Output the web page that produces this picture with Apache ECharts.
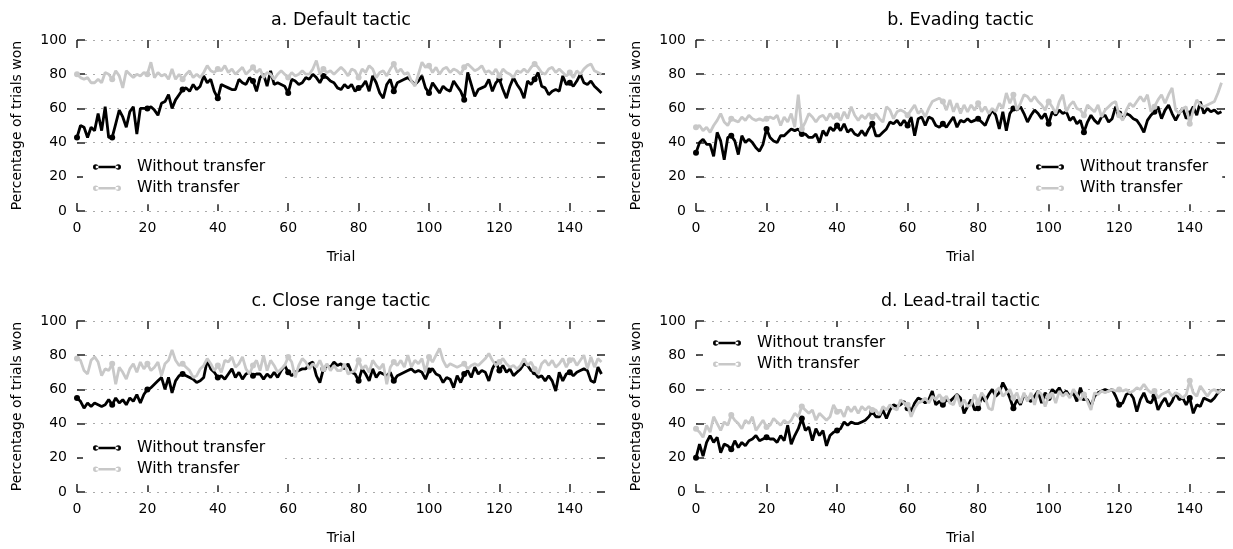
<!DOCTYPE html>
<html>
<head>
<meta charset="utf-8">
<title>Percentage of trials won</title>
<script src="https://cdn.jsdelivr.net/npm/echarts@6/dist/echarts.min.js"></script>
<style>
  html, body { margin: 0; padding: 0; background: #fff; }
  #chart { width: 1233px; height: 549px; }
</style>
</head>
<body>
<div id="chart"></div>
<script>
  // x values: trial number 0..149
  const trials = Array.from({ length: 150 }, (_, i) => i);
  const xTicks = [0, 20, 40, 60, 80, 100, 120, 140];
  const seriesNames = ['Without transfer', 'With transfer'];
  const titles = ['a. Default tactic', 'b. Evading tactic', 'c. Close range tactic', 'd. Lead-trail tactic'];

  // a. Default tactic
  const defaultWithout = [43,50,49,43,49,47,57,47,61,43, 43,51,59,55,49,58,61,45,60,60, 60,61,59,56,63,64,68,60,65,68,
    71,72,70,74,71,73,79,75,77,70, 66,74,73,72,71,71,77,75,74,78, 76,70,78,80,73,82,74,75,74,73,
    69,77,76,74,75,78,77,80,78,75, 79,78,76,75,72,71,74,72,74,70, 72,73,76,70,79,75,69,66,74,77,
    70,75,76,77,78,76,74,76,79,72, 69,75,72,69,73,71,70,76,73,70, 65,81,74,67,71,72,73,77,70,75,
    77,71,66,73,78,74,71,66,76,74, 77,81,73,72,68,70,71,70,79,74, 75,73,76,80,75,74,76,73,71,69];
  const defaultWith = [80,78,77,78,75,75,77,75,81,80, 77,82,79,72,82,80,78,80,79,81, 80,87,78,81,79,80,77,83,77,80,
    77,80,82,78,80,78,81,85,82,81, 83,82,85,81,83,80,82,84,80,82, 84,81,83,78,81,80,77,80,82,80,
    78,81,79,80,82,80,80,83,88,80, 83,81,82,80,82,84,82,79,83,82, 78,83,81,85,83,78,81,82,79,83,
    86,81,83,80,81,76,73,80,87,84, 85,81,84,80,83,84,81,83,82,80, 84,86,84,82,83,85,81,82,80,83,
    79,83,81,80,78,82,81,83,81,84, 86,84,81,80,83,84,81,83,81,79, 81,78,82,80,83,85,86,82,81,80];

  // b. Evading tactic
  const evadingWithout = [34,40,42,39,39,32,46,41,30,43, 44,41,33,44,40,42,40,37,35,39, 48,43,41,40,44,44,46,48,47,48,
    45,45,43,43,45,40,47,44,49,47, 50,47,51,46,48,45,44,47,44,48, 51,44,44,46,48,52,51,53,50,53,
    50,55,44,54,55,50,55,54,50,49, 51,49,52,55,49,53,52,54,52,53, 54,52,50,55,59,56,48,58,47,57,
    60,59,61,57,52,56,59,57,54,57, 51,58,56,59,57,58,53,55,51,53, 46,52,56,53,51,55,56,52,54,61,
    57,54,57,56,54,53,50,46,53,56, 58,61,54,59,62,57,53,57,60,54, 57,61,56,64,57,60,58,59,57,58];
  const evadingWith = [49,50,47,49,46,50,53,57,52,50, 54,53,52,55,53,56,54,53,54,53, 54,55,54,56,50,55,52,57,49,68,
    48,52,57,55,52,55,56,53,57,54, 56,53,58,54,61,56,53,56,54,57, 55,57,54,52,61,59,54,58,59,58,
    56,59,62,57,59,55,60,64,65,66, 64,59,65,58,63,57,62,58,62,59, 63,58,61,57,60,58,63,60,69,63,
    68,59,63,68,67,64,67,64,62,59, 64,61,57,64,68,58,62,64,60,59, 56,62,60,58,62,55,59,61,63,64,
    56,53,59,63,61,64,67,64,68,58, 61,65,68,63,68,72,59,57,60,61, 51,59,65,62,61,62,63,64,69,75];

  // c. Close range tactic
  const closeWithout = [55,53,49,52,50,52,51,50,51,54, 51,55,52,54,51,55,53,57,52,57, 60,61,63,65,67,60,67,58,65,68,
    69,68,67,66,64,65,67,77,72,70, 67,68,66,69,72,67,70,66,69,70, 68,69,69,66,69,67,70,67,71,74,
    70,68,70,71,72,72,75,76,68,64, 72,74,73,76,74,75,72,75,70,69, 65,72,69,65,72,67,70,69,68,70,
    65,68,69,70,71,72,70,71,70,66, 71,72,69,68,64,67,66,61,68,64, 69,71,67,73,69,71,70,65,72,76,
    71,74,70,72,68,70,72,75,74,71, 70,67,68,65,68,65,59,70,65,69, 70,68,70,71,72,71,65,64,73,69];
  const closeWith = [78,77,71,69,77,79,76,68,72,71, 75,63,73,70,66,72,75,70,76,72, 75,71,73,76,68,75,77,83,77,74,
    75,73,71,67,68,72,74,78,75,71, 74,70,77,76,79,73,75,79,72,69, 74,77,71,80,71,77,74,70,72,74,
    79,76,67,74,78,76,72,75,73,77, 72,75,71,74,71,71,75,69,70,71, 77,72,74,70,77,74,72,75,63,73,
    76,74,77,73,80,73,77,75,78,70, 79,76,80,84,77,73,75,74,73,74, 75,72,74,75,74,76,78,81,77,74,
    76,78,75,73,74,72,74,78,74,76, 72,69,75,77,74,77,73,75,78,73, 77,78,74,77,80,72,79,73,78,76];

  // d. Lead-trail tactic
  const leadWithout = [20,28,21,29,33,29,32,23,28,27, 25,30,26,29,27,30,31,33,30,31, 32,31,31,29,33,30,39,28,33,37,
    43,36,38,30,37,33,36,27,33,35, 36,37,41,39,41,40,40,41,42,44, 47,44,44,48,43,48,51,50,51,53,
    49,47,52,55,54,52,54,59,51,53, 51,54,53,55,57,55,46,50,54,48, 49,56,53,57,60,56,58,64,60,55,
    49,54,51,57,54,53,56,59,52,58, 55,60,58,61,57,59,56,58,53,61, 55,54,50,56,58,59,60,59,60,56,
    51,52,57,58,55,47,54,58,53,52, 56,48,52,55,50,53,58,54,55,51, 55,46,51,50,55,54,53,55,58,60];
  const leadWith = [37,35,32,39,35,44,40,36,41,39, 45,42,40,37,42,40,44,36,39,42, 38,39,43,41,39,42,40,42,46,44,
    50,48,46,48,42,46,44,42,44,51, 47,48,44,50,47,50,46,50,48,50, 48,48,45,50,48,51,49,48,54,52,
    51,44,49,52,53,55,52,56,54,57, 54,56,52,51,57,50,54,50,51,57, 52,58,55,49,48,59,61,56,58,60,
    55,58,52,58,53,58,51,59,57,50, 56,58,52,59,56,58,55,60,57,54, 57,53,48,58,57,59,58,59,60,59,
    60,59,60,58,59,61,60,63,60,58, 59,55,57,58,59,56,58,57,55,57, 65,58,56,62,59,56,59,60,58,60];

  const panelData = [
    [defaultWithout, defaultWith],
    [evadingWithout, evadingWith],
    [closeWithout, closeWith],
    [leadWithout, leadWith]
  ];

  // layout in pixels
  const grids = [
    { left: 77, top: 40, width: 528, height: 171 },
    { left: 696, top: 40, width: 529, height: 171 },
    { left: 77, top: 321, width: 528, height: 171 },
    { left: 696, top: 321, width: 529, height: 171 }
  ];
  const legendPos = [
    { left: 83, top: 151 },
    { left: 1026, top: 151 },
    { left: 83, top: 432 },
    { left: 703, top: 327 }
  ];
  const colors = ['#000000', '#c8c8c8'];
  const font = 'DejaVu Sans';
  const tickStyle = { color: '#222', width: 1.5 };

  // line with a dot at each end, like the legend of the original
  const legendIcon = 'path://M3,1.8L25,1.8L25,4.2L3,4.2Z' +
    'M0.3,3A2.7,2.7,0,1,0,5.7,3A2.7,2.7,0,1,0,0.3,3Z' +
    'M22.3,3A2.7,2.7,0,1,0,27.7,3A2.7,2.7,0,1,0,22.3,3Z';

  const xAxes = [], yAxes = [], series = [];
  grids.forEach(function (g, k) {
    xAxes.push({
      gridIndex: k, type: 'value', position: 'bottom', min: 0, max: 150,
      name: 'Trial', nameLocation: 'middle', nameGap: 39,
      nameTextStyle: { fontSize: 14, fontFamily: font, color: '#000' },
      axisLine: { show: false, onZero: false },
      axisTick: { show: true, inside: true, length: 8, lineStyle: tickStyle, customValues: xTicks },
      axisLabel: { fontSize: 14, fontFamily: font, color: '#000', margin: 10, customValues: xTicks },
      splitLine: { show: false }
    });
    xAxes.push({
      gridIndex: k, type: 'value', position: 'top', min: 0, max: 150,
      axisLine: { show: false, onZero: false },
      axisTick: { show: true, inside: true, length: 8, lineStyle: tickStyle, customValues: xTicks },
      axisLabel: { show: false },
      splitLine: { show: false }
    });
    yAxes.push({
      gridIndex: k, type: 'value', position: 'left', min: 0, max: 100, interval: 20,
      name: 'Percentage of trials won', nameLocation: 'middle', nameGap: 53,
      nameTextStyle: { fontSize: 14, fontFamily: font, color: '#000' },
      axisLine: { show: false, onZero: false },
      axisTick: { show: true, inside: true, length: 8, lineStyle: tickStyle },
      axisLabel: { fontSize: 14, fontFamily: font, color: '#000', margin: 10 },
      splitLine: { show: true, lineStyle: { color: '#aaaaaa', width: 1.2, type: [2, 6] } }
    });
    yAxes.push({
      gridIndex: k, type: 'value', position: 'right', min: 0, max: 100, interval: 20,
      axisLine: { show: false, onZero: false },
      axisTick: { show: true, inside: true, length: 8, lineStyle: tickStyle },
      axisLabel: { show: false },
      splitLine: { show: false }
    });
    panelData[k].forEach(function (values, s) {
      series.push({
        name: seriesNames[s],
        type: 'line',
        xAxisIndex: k * 2,
        yAxisIndex: k * 2,
        data: values.map(function (v, i) { return [trials[i], v]; }),
        symbol: 'circle',
        // a dot on every tenth trial
        symbolSize: function (val, p) { return p.dataIndex % 10 === 0 ? 6 : 0; },
        lineStyle: { color: colors[s], width: 2.8 },
        itemStyle: { color: colors[s], borderWidth: 0 },
        emphasis: { disabled: true },
        z: 2 + s
      });
    });
  });

  const chart = echarts.init(document.getElementById('chart'));
  chart.setOption({
    animation: false,
    backgroundColor: '#fff',
    title: titles.map(function (t, k) {
      return {
        text: t,
        left: grids[k].left + grids[k].width / 2,
        top: grids[k].top - 29,
        textAlign: 'center',
        padding: 0,
        textStyle: { fontSize: 17.5, fontWeight: 'normal', fontFamily: font, color: '#000' }
      };
    }),
    legend: legendPos.map(function (p) {
      return {
        data: seriesNames,
        orient: 'vertical',
        left: p.left,
        top: p.top,
        icon: legendIcon,
        itemWidth: 28,
        itemHeight: 6,
        itemGap: 5.3,
        padding: [8, 14, 8, 10],
        backgroundColor: '#fff',
        selectedMode: false,
        itemStyle: { borderWidth: 0 },
        textStyle: { fontSize: 15.7, fontFamily: font, color: '#000', padding: [0, 0, 0, 11] }
      };
    }),
    grid: grids.map(function (g) {
      return { left: g.left, top: g.top, width: g.width, height: g.height, outerBoundsMode: 'none' };
    }),
    xAxis: xAxes,
    yAxis: yAxes,
    series: series
  });
</script>
</body>
</html>
